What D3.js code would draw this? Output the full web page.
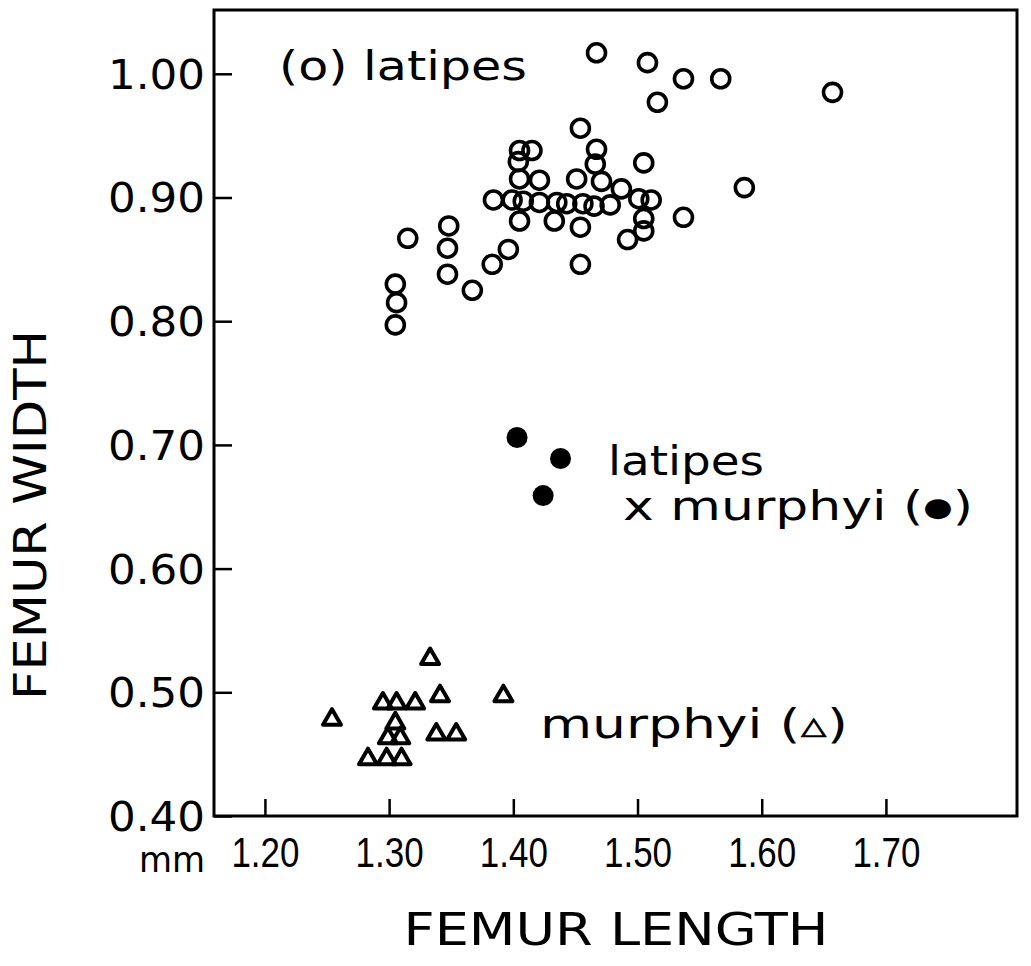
<!DOCTYPE html>
<html>
<head>
<meta charset="utf-8">
<script src="https://cdn.jsdelivr.net/npm/d3@7"></script>
<style>
  body { margin: 0; background: #fff; }
  text { fill: #000; }
</style>
</head>
<body>
<div id="chart-area"></div>
<script>
// Data (femur length / width in mm)
const latipesLength = [1.467, 1.508, 1.537, 1.567, 1.516, 1.657, 1.454, 1.405, 1.415, 1.467,
  1.404, 1.466, 1.505, 1.405, 1.421, 1.451, 1.471, 1.487, 1.586, 1.384,
  1.399, 1.408, 1.421, 1.435, 1.443, 1.456, 1.465, 1.478, 1.501, 1.511,
  1.505, 1.505, 1.492, 1.405, 1.433, 1.454, 1.537, 1.348, 1.315, 1.347,
  1.396, 1.383, 1.454, 1.347, 1.367, 1.305, 1.306, 1.305]
const latipesWidth = [1.017, 1.009, 0.996, 0.996, 0.977, 0.985, 0.956, 0.938, 0.938, 0.939,
  0.929, 0.927, 0.928, 0.915, 0.914, 0.915, 0.913, 0.907, 0.908, 0.898,
  0.898, 0.897, 0.896, 0.896, 0.895, 0.895, 0.893, 0.894, 0.899, 0.898,
  0.883, 0.873, 0.866, 0.881, 0.881, 0.876, 0.884, 0.877, 0.867, 0.859,
  0.858, 0.846, 0.846, 0.838, 0.825, 0.830, 0.815, 0.797]

const hybridLength = [1.403, 1.438, 1.424]
const hybridWidth = [0.706, 0.689, 0.659]

const murphyiLength = [1.333, 1.341, 1.392, 1.254, 1.295, 1.306, 1.321, 1.305,
  1.299, 1.309, 1.338, 1.354, 1.283, 1.298, 1.310]
const murphyiWidth = [0.527, 0.497, 0.497, 0.478, 0.491, 0.491, 0.491, 0.475,
  0.463, 0.463, 0.466, 0.466, 0.446, 0.446, 0.446]

const xTicks = [1.20, 1.30, 1.40, 1.50, 1.60, 1.70]
const yTicks = [0.40, 0.50, 0.60, 0.70, 0.80, 0.90, 1.00]

// Layout
const W = 1031, H = 966
const MARGIN = { LEFT: 214, RIGHT: 14, TOP: 10, BOTTOM: 150 }
const WIDTH = W - MARGIN.LEFT - MARGIN.RIGHT
const HEIGHT = H - MARGIN.TOP - MARGIN.BOTTOM

const svg = d3.select("#chart-area").append("svg")
  .attr("width", W)
  .attr("height", H)

const g = svg.append("g")
  .attr("transform", `translate(${MARGIN.LEFT}, ${MARGIN.TOP})`)

// Scales: 0.1 mm is about 124 px on both axes
const x = d3.scaleLinear()
  .domain([1.159, 1.159 + WIDTH / 1242])
  .range([0, WIDTH])
const y = d3.scaleLinear()
  .domain([0.40, 0.40 + HEIGHT / 1237])
  .range([HEIGHT, 0])

// Frame
g.append("rect")
  .attr("width", WIDTH)
  .attr("height", HEIGHT)
  .attr("fill", "none")
  .attr("stroke", "#000")
  .attr("stroke-width", 3)

// Y axis, ticks pointing inward
const yAxis = g.append("g")
  .attr("class", "y axis")
  .call(d3.axisLeft(y).tickValues(yTicks).tickSize(-18).tickPadding(9)
    .tickFormat(d3.format(".2f")))
yAxis.select(".domain").remove()
yAxis.selectAll("line").attr("stroke-width", 2.5)
yAxis.selectAll("text")
  .attr("font-family", "DejaVu Sans")
  .attr("font-size", 40)
  .attr("dy", "0.36em")
  .attr("textLength", 97)
  .attr("lengthAdjust", "spacingAndGlyphs")

// X axis, ticks pointing inward
const xAxis = g.append("g")
  .attr("class", "x axis")
  .attr("transform", `translate(0, ${HEIGHT})`)
  .call(d3.axisBottom(x).tickValues(xTicks).tickSize(-17).tickPadding(20)
    .tickFormat(d3.format(".2f")))
xAxis.select(".domain").remove()
xAxis.selectAll("line").attr("stroke-width", 2.5)
xAxis.selectAll("text")
  .attr("font-family", "Liberation Sans")
  .attr("font-size", 43)
  .attr("dy", "0.71em")
  .attr("textLength", 68)
  .attr("lengthAdjust", "spacingAndGlyphs")

// Unit
g.append("text")
  .attr("x", -9)
  .attr("y", HEIGHT + 56)
  .attr("text-anchor", "end")
  .attr("font-family", "DejaVu Sans")
  .attr("font-size", 36)
  .attr("textLength", 66)
  .attr("lengthAdjust", "spacingAndGlyphs")
  .text("mm")

// Axis titles
svg.append("text")
  .attr("transform", `translate(46, 515) rotate(-90)`)
  .attr("text-anchor", "middle")
  .attr("font-family", "DejaVu Sans")
  .attr("font-size", 44)
  .attr("textLength", 370)
  .attr("lengthAdjust", "spacingAndGlyphs")
  .text("FEMUR WIDTH")

svg.append("text")
  .attr("x", 616)
  .attr("y", 945)
  .attr("text-anchor", "middle")
  .attr("font-family", "DejaVu Sans")
  .attr("font-size", 44)
  .attr("textLength", 425)
  .attr("lengthAdjust", "spacingAndGlyphs")
  .text("FEMUR LENGTH")

// Points
const latipes = latipesLength.map((d, i) => ({ l: d, w: latipesWidth[i] }))
const hybrid = hybridLength.map((d, i) => ({ l: d, w: hybridWidth[i] }))
const murphyi = murphyiLength.map((d, i) => ({ l: d, w: murphyiWidth[i] }))

g.selectAll("circle.latipes")
  .data(latipes)
  .enter().append("circle")
  .attr("class", "latipes")
  .attr("cx", d => x(d.l))
  .attr("cy", d => y(d.w))
  .attr("r", 9)
  .attr("fill", "none")
  .attr("stroke", "#000")
  .attr("stroke-width", 3.6)

g.selectAll("circle.hybrid")
  .data(hybrid)
  .enter().append("circle")
  .attr("class", "hybrid")
  .attr("cx", d => x(d.l))
  .attr("cy", d => y(d.w))
  .attr("r", 10.5)
  .attr("fill", "#000")

g.selectAll("path.murphyi")
  .data(murphyi)
  .enter().append("path")
  .attr("class", "murphyi")
  .attr("transform", d => `translate(${x(d.l)}, ${y(d.w)})`)
  .attr("d", d3.symbol(d3.symbolTriangle, 140))
  .attr("fill", "none")
  .attr("stroke", "#000")
  .attr("stroke-width", 4)
  .attr("stroke-linejoin", "round")

// Group labels (the legend glyph sits in a smaller tspan)
const labels = [
  { pre: "(o) latipes", glyph: "", post: "", x: 279, y: 80, len: 248 },
  { pre: "latipes", glyph: "", post: "", x: 608, y: 475, len: 156 },
  { pre: "x murphyi (", glyph: "●", post: ")", x: 623, y: 520, len: 350 },
  { pre: "murphyi (", glyph: "▵", post: ")", x: 540, y: 738, len: 308 }
]
const lab = svg.selectAll("text.group")
  .data(labels)
  .enter().append("text")
  .attr("class", "group")
  .attr("x", d => d.x)
  .attr("y", d => d.y)
  .attr("font-family", "DejaVu Sans")
  .attr("font-size", 40)
  .attr("textLength", d => d.len)
  .attr("lengthAdjust", "spacingAndGlyphs")
lab.append("tspan").text(d => d.pre)
lab.filter(d => d.glyph).append("tspan")
  .attr("font-size", d => d.glyph === "●" ? 26 : 40)
  .attr("dy", d => d.glyph === "●" ? -4 : 0)
  .text(d => d.glyph)
lab.filter(d => d.post).append("tspan")
  .attr("dy", d => d.glyph === "●" ? 4 : 0)
  .text(d => d.post)
</script>
</body>
</html>
